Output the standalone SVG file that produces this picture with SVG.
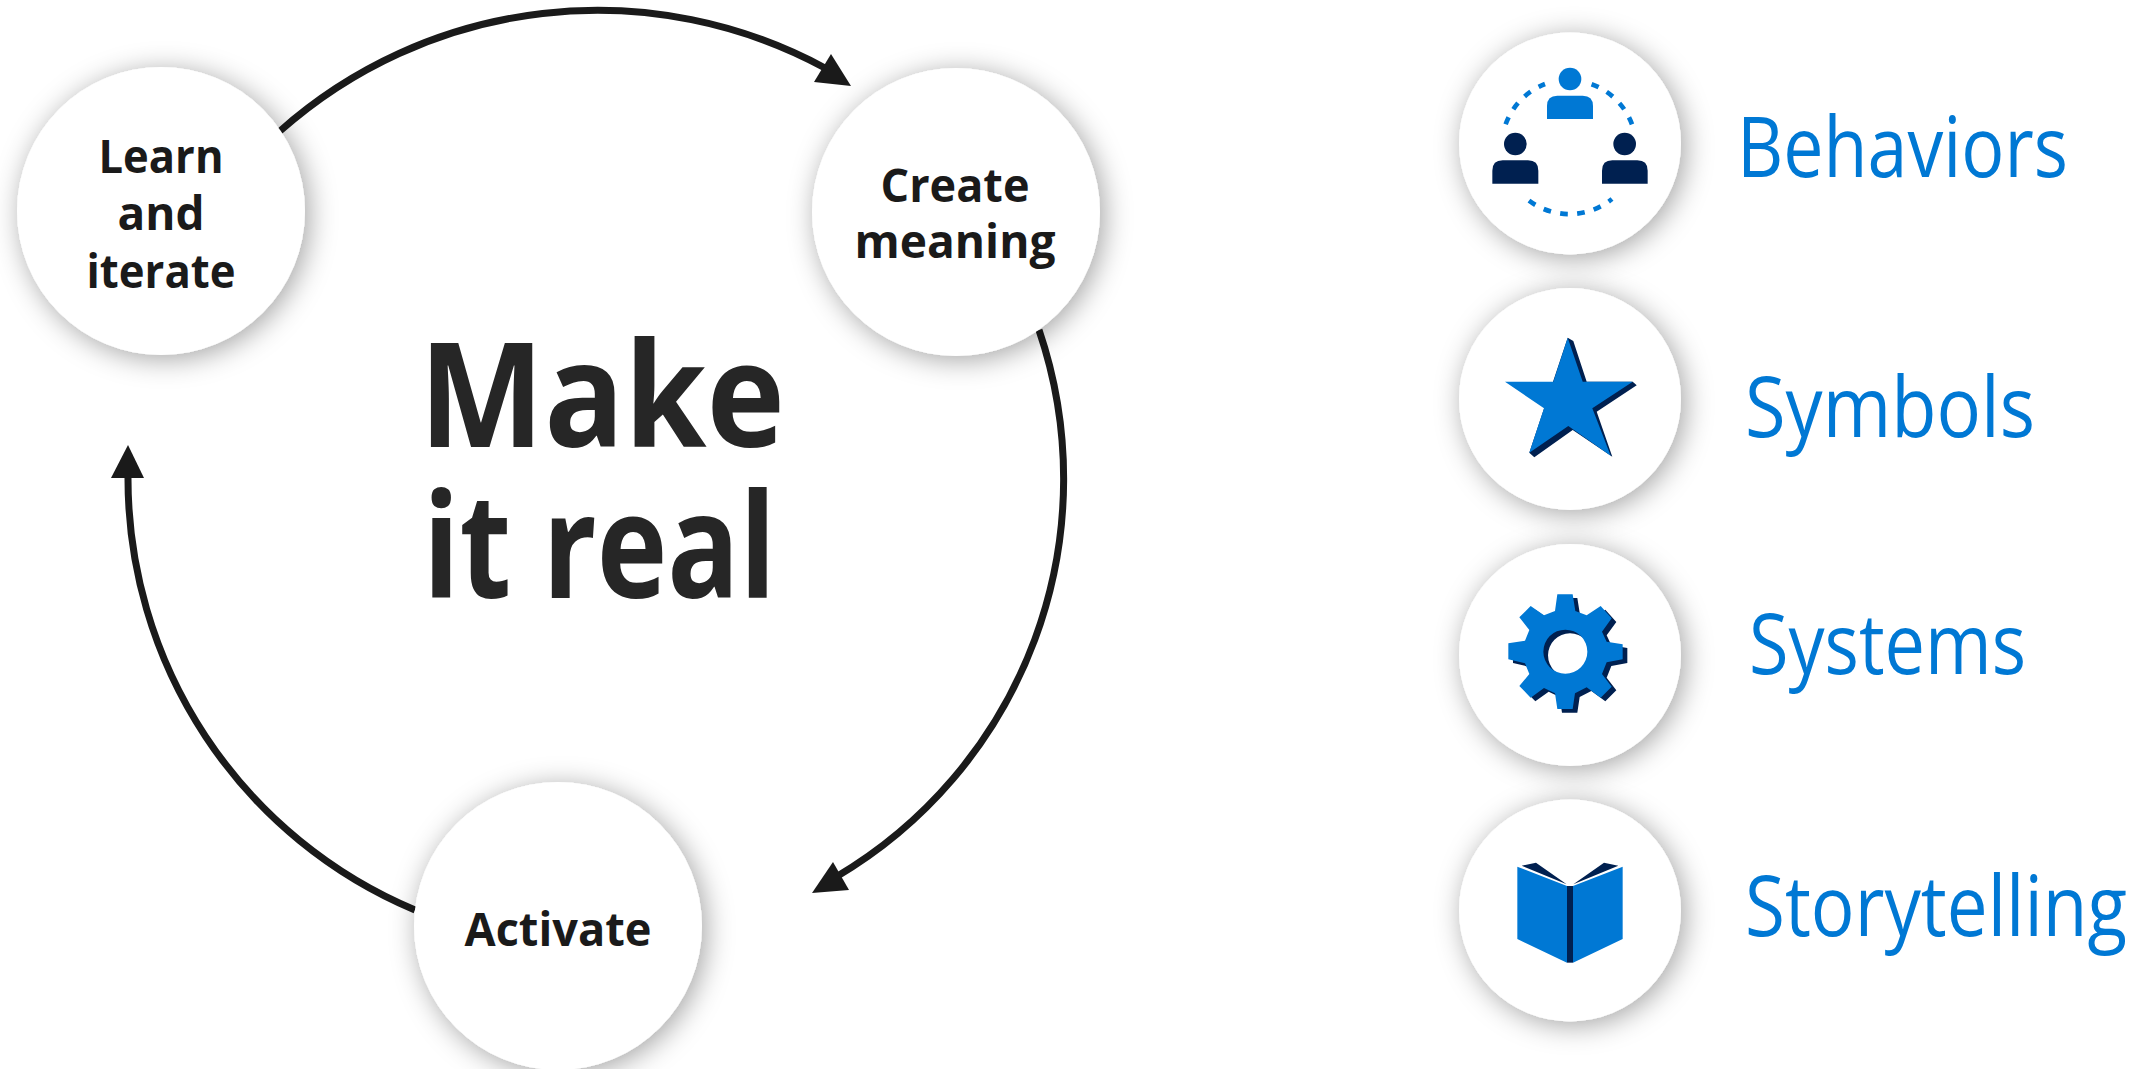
<svg xmlns="http://www.w3.org/2000/svg" width="2144" height="1069" viewBox="0 0 2144 1069">
<style>
text{font-family:"Open Sans","Noto Sans","Liberation Sans",sans-serif}
.n{font-weight:700;font-size:47px;fill:#1a1a1a;text-anchor:middle}
.t{font-weight:700;font-size:146px;fill:#262626}
.l{font-weight:400;font-size:84px;fill:#0078d4}
.c{fill:#fff;filter:url(#s)}
.a{fill:none;stroke:#1a1a1a;stroke-width:7}
.h{fill:#1a1a1a}
.b{fill:#0078d4}.d{fill:#002050}
.ds{fill:none;stroke:#0078d4;stroke-width:14;stroke-dasharray:23 28}
</style>
<defs>
<filter id="s" x="-30%" y="-30%" width="160%" height="160%"><feDropShadow dx="4" dy="4" stdDeviation="14" flood-color="#000" flood-opacity=".36"/></filter>
<path id="gear" fill-rule="evenodd" d="M352 193H398L406 243L440 256L482 228L515 265L486 305L500 335L548 343V388L500 397L486 432L515 470L482 503L440 472L405 490L398 537H352L345 490L312 474L272 503L238 468L268 432L255 400L205 388V340L255 332L268 300L238 262L272 228L312 256L345 243ZM376 299A66 66 0 1 0 376.100 431A66 66 0 1 0 376 299Z"/>
</defs>
<rect width="2144" height="1069" fill="#fff"/>
<g id="connectors">
<path class="a" d="M280 131A478 478 0 0 1 825 68"/><path class="h" d="M851 86L814 82L831 54Z"/>
<path class="a" d="M1039 330A462 462 0 0 1 836 877"/><path class="h" d="M812 893L833 862L849 890Z"/>
<path class="a" d="M415 910A468 468 0 0 1 128 476"/><path class="h" d="M128 445L144 478L111 478Z"/>
</g>
<g id="learn"><circle class="c" cx="161" cy="211" r="144"/><text class="n" x="161" y="173" textLength="125" lengthAdjust="spacingAndGlyphs">Learn</text><text class="n" x="161" y="230" textLength="87" lengthAdjust="spacingAndGlyphs">and</text><text class="n" x="161" y="288" textLength="149" lengthAdjust="spacingAndGlyphs">iterate</text></g>
<g id="create"><circle class="c" cx="956" cy="212" r="144"/><text class="n" x="955" y="202" textLength="149" lengthAdjust="spacingAndGlyphs">Create</text><text class="n" x="955" y="258" textLength="201" lengthAdjust="spacingAndGlyphs">meaning</text></g>
<g id="activate"><circle class="c" cx="558" cy="926" r="144"/><text class="n" x="558" y="946" textLength="187" lengthAdjust="spacingAndGlyphs">Activate</text></g>
<g id="title"><text class="t" x="419" y="447" textLength="366" lengthAdjust="spacingAndGlyphs">Make</text><text class="t" x="423" y="598" textLength="353" lengthAdjust="spacingAndGlyphs">it real</text></g>
<g id="behaviors"><circle class="c" cx="1570" cy="143.500" r="111"/>
<g transform="translate(1440 20) scale(.33333)">
<circle class="b" cx="390" cy="177" r="34"/><path class="b" d="M321 297V258Q321 227 352 227H428Q459 227 459 258V297Z"/>
<circle class="d" cx="226" cy="372" r="34"/><path class="d" d="M157 491V452Q157 421 188 421H264Q295 421 295 452V491Z"/>
<circle class="d" cx="554" cy="372" r="34"/><path class="d" d="M486 491V452Q486 421 517 421H592Q623 421 623 452V491Z"/>
<path class="ds" d="M197 313A203 203 0 0 1 315 192"/><path class="ds" d="M576 313A203 203 0 0 0 453 192"/><path class="ds" d="M267 542A203 203 0 0 0 516 537"/>
</g>
<text class="l" x="1737" y="177" textLength="331" lengthAdjust="spacingAndGlyphs">Behaviors</text></g>
<g id="symbols"><circle class="c" cx="1570" cy="399" r="111"/>
<path class="d" d="M1567.700 337.700L1573.300 341L1586.700 381.700H1632.700L1636.700 385.300L1596.700 411.700L1612.300 456.700L1572.700 430L1534.300 457.300L1529.300 452.700Z"/>
<path class="b" d="M1567.700 337.700L1582.700 381.700H1632.700L1592.300 408.300L1610.700 455.700L1568.300 426L1529.300 452.700L1544 408.300L1505 381.700H1553.300Z"/>
<text class="l" x="1745" y="437" textLength="290" lengthAdjust="spacingAndGlyphs">Symbols</text></g>
<g id="systems"><circle class="c" cx="1570" cy="655" r="111"/>
<g transform="translate(1440 530) scale(.33333)"><use href="#gear" class="d" x="14" y="11"/><use href="#gear" class="b"/></g>
<text class="l" x="1749" y="674" textLength="277" lengthAdjust="spacingAndGlyphs">Systems</text></g>
<g id="storytelling"><circle class="c" cx="1570" cy="910.500" r="111"/>
<g transform="translate(1440 790) scale(.33333)">
<path class="d" d="M245 227L288 218L380 283ZM535 227L492 218L400 283Z"/><rect class="d" x="381" y="288" width="18" height="230"/>
<path class="b" d="M232 230L381 288V518L232 447ZM548 230L399 288V518L548 447Z"/></g>
<text class="l" x="1745" y="936" textLength="382" lengthAdjust="spacingAndGlyphs">Storytelling</text></g>
</svg>
